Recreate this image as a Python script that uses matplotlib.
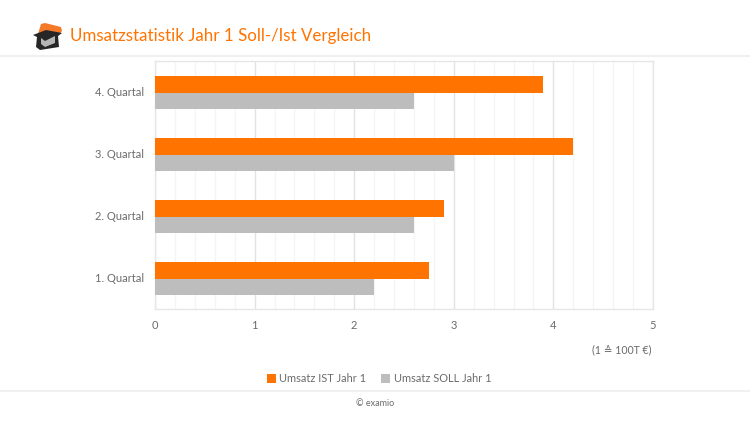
import matplotlib
matplotlib.use("Agg")
import matplotlib.pyplot as plt
from matplotlib.patches import Polygon
from matplotlib.transforms import ScaledTranslation
import numpy as np

plt.rcParams["font.family"] = ["Lato", "DejaVu Sans"]

# Data
quarters = ["1. Quartal", "2. Quartal", "3. Quartal", "4. Quartal"]
umsatz_ist = [2.75, 2.9, 4.2, 3.9]
umsatz_soll = [2.2, 2.6, 3.0, 2.6]

ORANGE = "#ff7300"
GREY = "#bdbdbd"
TEXT = "#6b6b6b"
W, H = 750, 422

fig = plt.figure(figsize=(7.5, 4.22), dpi=100)
ax = fig.add_axes([155 / W, 1 - 309 / H, 498 / W, 248 / H])

# Bars
y = np.arange(len(quarters))
bar_h = 0.265
ax.barh(y + bar_h / 2, umsatz_ist, height=bar_h, color=ORANGE, label="Umsatz IST Jahr 1", zorder=3)
ax.barh(y - bar_h / 2, umsatz_soll, height=bar_h, color=GREY, label="Umsatz SOLL Jahr 1", zorder=3)

# Axes
ax.set_xlim(0, 5)
ax.set_ylim(-0.49, 3.51)
ax.set_yticks(y)
ax.set_yticklabels(quarters)
ax.set_xticks(range(6))
ax.set_xticks(np.arange(0, 5.01, 0.2), minor=True)
ax.tick_params(axis="both", which="both", length=0, labelsize=8, labelcolor=TEXT)
ax.tick_params(axis="x", pad=8)
ax.tick_params(axis="y", pad=8)
ax.grid(True, axis="x", which="major", color="#e2e2e2", lw=1, zorder=0)
ax.grid(True, axis="x", which="minor", color="#f5f5f5", lw=1, zorder=0)
for s in ax.spines.values():
    s.set_color("#e6e6e6")
    s.set_linewidth(1)

# Labels sit a pixel above the group centre
nudge = ScaledTranslation(0, 1 / 100, fig.dpi_scale_trans)
for label in ax.get_yticklabels():
    label.set_transform(label.get_transform() + nudge)

# Legend
handles, labels = ax.get_legend_handles_labels()
fig.legend(handles, labels, loc="center", bbox_to_anchor=(379 / W, 1 - 379 / H), ncol=2, frameon=False,
           fontsize=7.9, labelcolor=TEXT, handlelength=0.8, handleheight=0.8, handletextpad=0.35,
           columnspacing=1.3, borderpad=0)

# Texts
fig.text(70 / W, 1 - 36 / H, "Umsatzstatistik Jahr 1 Soll-/Ist Vergleich", color=ORANGE, fontsize=12.2, va="center")
fig.text(652 / W, 1 - 350 / H, "(1 ≙ 100T €)", color=TEXT, fontsize=7.6, ha="right", va="center")
fig.text(375 / W, 1 - 403 / H, "© examio", color=TEXT, fontsize=6.5, ha="center", va="center")

# Separator lines
for ypos in (56, 391):
    fig.add_artist(plt.Line2D([0, 1], [1 - ypos / H, 1 - ypos / H], color="#f0f0f0", lw=1.5))


def px(points):
    return [(a / W, 1 - b / H) for a, b in points]


# Logo
logo_parts = [
    ([(38, 34), (41, 24), (45, 23), (61, 27), (62, 31), (58, 36)], "#f47a2a"),
    ([(33, 35), (46, 30), (62, 33), (58, 36), (59, 47), (40, 50), (36, 47), (37, 37)], "#262626"),
    ([(41, 38), (45, 41), (55, 36), (55, 43), (45, 47), (41, 44)], "#b5b5b5"),
]
for points, colour in logo_parts:
    fig.add_artist(Polygon(px(points), closed=True, color=colour, lw=0, transform=fig.transFigure))

fig.savefig("out.png", dpi=100)
